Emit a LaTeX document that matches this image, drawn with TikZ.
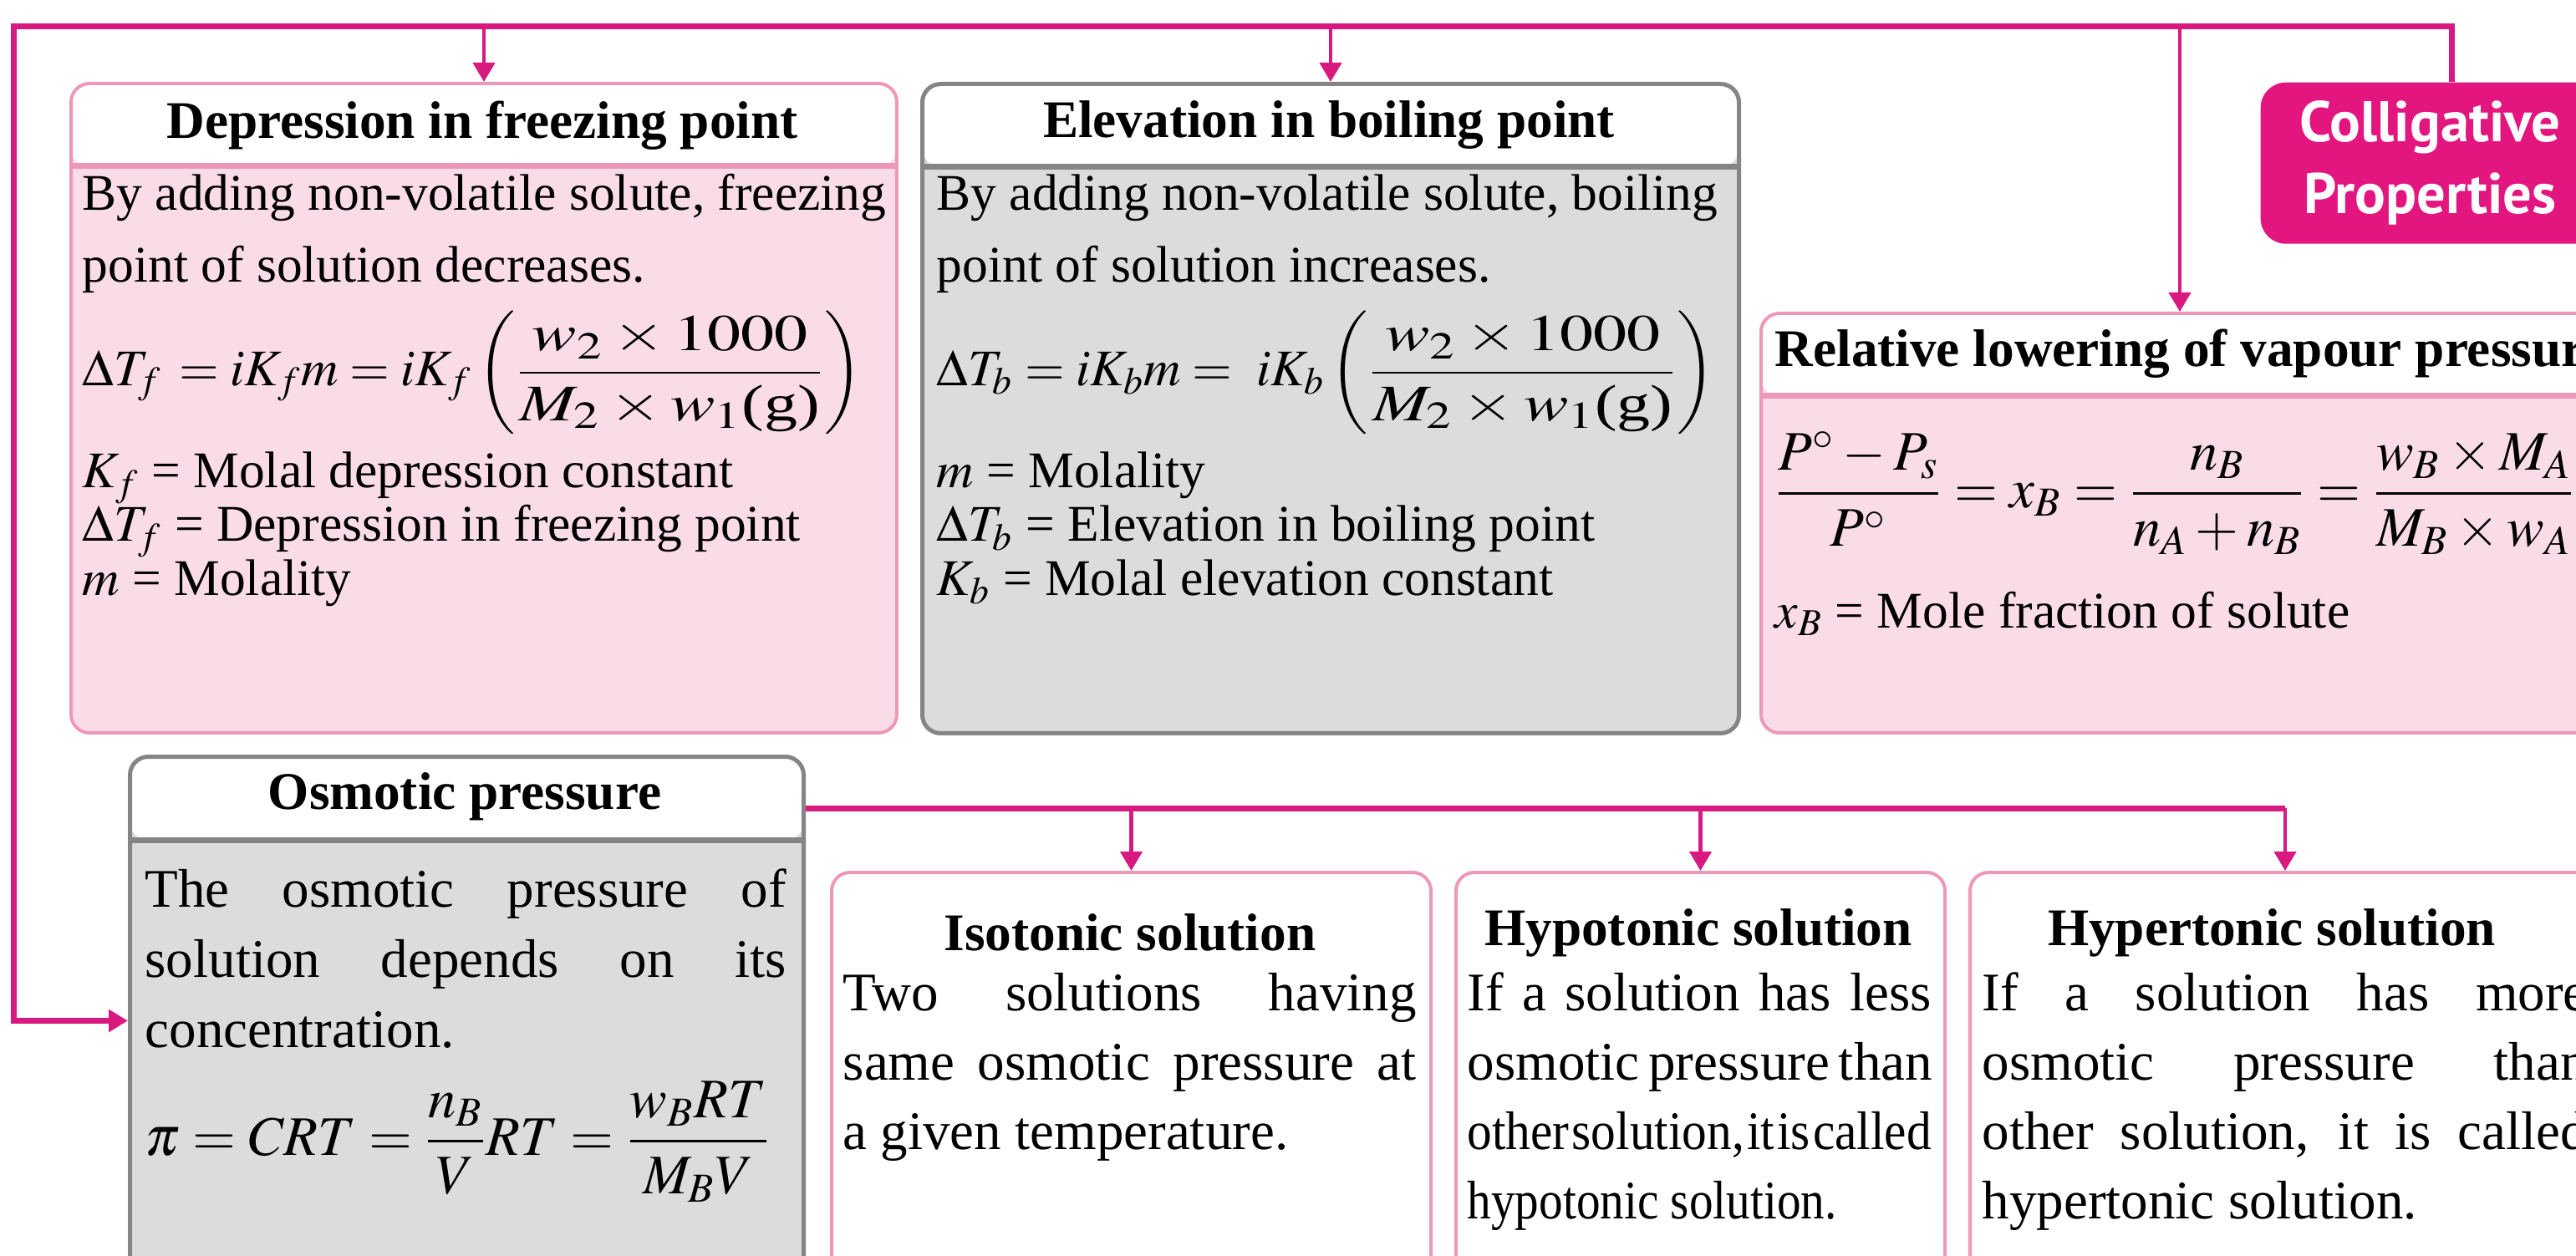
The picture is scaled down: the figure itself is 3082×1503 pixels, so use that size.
\documentclass[tikz,border=0pt]{standalone}
\usepackage{amsmath}
\usepackage{mathptmx}
\usepackage{fontspec}
\setmainfont{Liberation Serif}
\newfontfamily\collfont{PT Sans}
\usepackage{graphicx}
\usetikzlibrary{arrows.meta}

\definecolor{linkmag}{HTML}{D8197F}
\definecolor{collfill}{HTML}{E3157F}
\definecolor{bodypink}{HTML}{FADCE9}
\definecolor{edgepink}{HTML}{EE98B9}
\definecolor{bodygray}{HTML}{DCDCDC}
\definecolor{edgegray}{HTML}{858585}

\begin{document}
\begin{tikzpicture}[x=0.1mm, y=-0.1mm,
  link/.style={draw=linkmag, line width=0.7mm},
  drop/.style={draw=linkmag, line width=0.45mm, -{Triangle[width=2.6mm,length=2.3mm]}},
  box/.style={anchor=north west, inner sep=0pt, rounded corners=2.2mm, line width=0.4mm},
  pinkhd/.style={box, draw=edgepink, fill=bodypink, path picture={
      \fill[white] (path picture bounding box.north west) rectangle ([yshift=-#1]path picture bounding box.north east);
      \draw[edgepink, line width=0.7mm] ([yshift=-#1]path picture bounding box.north west) -- ([yshift=-#1]path picture bounding box.north east);}},
  grayhd/.style={box, draw=edgegray, line width=0.5mm, fill=bodygray, path picture={
      \fill[white] (path picture bounding box.north west) rectangle ([yshift=-#1]path picture bounding box.north east);
      \draw[edgegray, line width=0.7mm] ([yshift=-#1]path picture bounding box.north west) -- ([yshift=-#1]path picture bounding box.north east);}},
  plain/.style={box, draw=edgepink, fill=white},
  coll/.style={anchor=north west, inner sep=0pt, rounded corners=3mm, fill=collfill, text=white,
    font=\collfont\bfseries\fontsize{19.5}{24.5}\selectfont, align=center},
  title/.style={font=\bfseries\fontsize{18}{22}\selectfont, inner sep=0pt},
  txt/.style={font=\fontsize{17.5}{21}\selectfont, inner sep=0pt, anchor=base west},
  wtxt/.style={txt, font=\fontsize{18.5}{22}\selectfont},
  frm/.style={font=\fontsize{17.5}{21}\selectfont, inner sep=0pt, anchor=west}]

  \useasboundingbox (0,0) rectangle (3082,1503);
  \clip (0,0) rectangle (3082,1503);

  % boxes
  \node[pinkhd=9.9mm, minimum width=98.8mm, minimum height=77.7mm] (dep) at (83,98) {};
  \node[grayhd=9.9mm, minimum width=97.7mm, minimum height=77.7mm] (elev) at (1101,98) {};
  \node[pinkhd=9.9mm, minimum width=100.2mm, minimum height=50.2mm] (rel) at (2105,373) {};
  \node[grayhd=10mm, minimum width=80.6mm, minimum height=63.2mm] (osm) at (153,903) {};
  \node[plain, minimum width=71.7mm, minimum height=50mm] (iso) at (993,1042) {};
  \node[plain, minimum width=58.5mm, minimum height=50mm] (hypo) at (1740,1042) {};
  \node[plain, minimum width=75.4mm, minimum height=50mm] (hyper) at (2355,1042) {};
  \node[coll, minimum width=40.6mm, minimum height=19.3mm] (coll) at (2704,98) {Colligative\\Properties};

  % main trunk and drops
  \coordinate (corner) at (16,32);
  \draw[link, -{Triangle[width=2.6mm,length=2.3mm]}] ([xshift=2.6mm]coll.north) |- (corner) |- (osm.west);
  \foreach \b in {dep,elev,rel}
    \draw[drop] (\b.north |- corner) -- (\b.north);
  \coordinate (bus) at ([yshift=-6.4mm]osm.north east);
  \draw[link] (bus) -- (bus -| hyper.north);
  \foreach \b in {iso,hypo,hyper}
    \draw[drop] (bus -| \b.north) -- (\b.north);

  % depression in freezing point
  \node[title] (depT) at (577,150) {Depression in freezing point};
  \foreach \t [count=\i from 0] in {{By adding non-volatile solute, freezing},{point of solution decreases.}}
    \node[txt] (depA\i) at (98,{252+86*\i}) {\t};
  \node[frm] (depF) at (98,446) {$\Delta T_f\, = iK_f m = iK_f\left(\scalebox{1.3}[1]{$\dfrac{w_2\times 1000}{M_2\times w_1\text{(g)}}$}\right)$};
  \foreach \t [count=\i from 0] in {{$K_f$ = Molal depression constant},{$\Delta T_f$ = Depression in freezing point},{$m$ = Molality}}
    \node[txt] (depB\i) at (98,{584+64*\i}) {\t};

  % elevation in boiling point
  \node[title] (elevT) at (1590,150) {Elevation in boiling point};
  \foreach \t [count=\i from 0] in {{By adding non-volatile solute, boiling},{point of solution increases.}}
    \node[txt] (elevA\i) at (1120,{252+86*\i}) {\t};
  \node[frm] (elevF) at (1120,446) {$\Delta T_b = iK_b m = \ iK_b\left(\scalebox{1.3}[1]{$\dfrac{w_2\times 1000}{M_2\times w_1\text{(g)}}$}\right)$};
  \foreach \t [count=\i from 0] in {{$m$ = Molality},{$\Delta T_b$ = Elevation in boiling point},{$K_b$ = Molal elevation constant}}
    \node[txt] (elevB\i) at (1120,{584+64*\i}) {\t};

  % relative lowering of vapour pressure
  \node[title, anchor=west] (relT) at (2123,423) {Relative lowering of vapour pressure};
  \node[frm, font=\fontsize{19}{23}\selectfont] (relF) at (2123,590) {$\dfrac{P^\circ - P_s}{P^\circ} = x_B = \dfrac{n_B}{n_A + n_B} = \dfrac{w_B\times M_A}{M_B\times w_A}$};
  \node[txt] (relB) at (2123,751) {$x_B$ = Mole fraction of solute};

  % osmotic pressure
  \node[title] (osmT) at (556,953) {Osmotic pressure};
  \foreach \t [count=\i from 0] in {{The osmotic pressure of},{solution depends on its}}
    \node[wtxt] (osmA\i) at (173,{1085+84*\i}) {\makebox[76.7mm][s]{\t}};
  \node[wtxt] (osmA2) at (173,1253) {concentration.};
  \node[frm, font=\fontsize{19}{23}\selectfont] (osmF) at (173,1366) {$\pi = CRT = \dfrac{n_B}{V}RT = \dfrac{w_B RT}{M_B V}$};

  % isotonic
  \node[title] (isoT) at (1352,1116) {Isotonic solution};
  \foreach \t [count=\i from 0] in {{Two solutions having},{same osmotic pressure at}}
    \node[wtxt] (isoA\i) at (1008,{1209+83*\i}) {\makebox[68.6mm][s]{\t}};
  \node[wtxt] (isoA2) at (1008,1375) {a given temperature.};

  % hypotonic
  \node[title] (hypoT) at (2032,1116) {Hypotonic solution};
  \foreach \t [count=\i from 0] in {{If a solution has less},{osmotic pressure than}}
    \node[wtxt] (hypoA\i) at (1755,{1209+83*\i}) {\makebox[55.5mm][s]{\t}};
  \node[wtxt] (hypoA2) at (1755,1375) {\resizebox{55.5mm}{\height}{{\spaceskip=1pt other solution, it is called}}};
  \node[wtxt] (hypoA3) at (1755,1458) {\scalebox{0.88}[1]{hypotonic solution.}};

  % hypertonic
  \node[title] (hyperT) at (2718,1116) {Hypertonic solution};
  \foreach \t [count=\i from 0] in {{If a solution has more},{osmotic pressure than},{other solution, it is called}}
    \node[wtxt] (hyperA\i) at (2371,{1209+83*\i}) {\makebox[72.4mm][s]{\t}};
  \node[wtxt] (hyperA3) at (2371,1458) {hypertonic solution.};
\end{tikzpicture}
\end{document}
